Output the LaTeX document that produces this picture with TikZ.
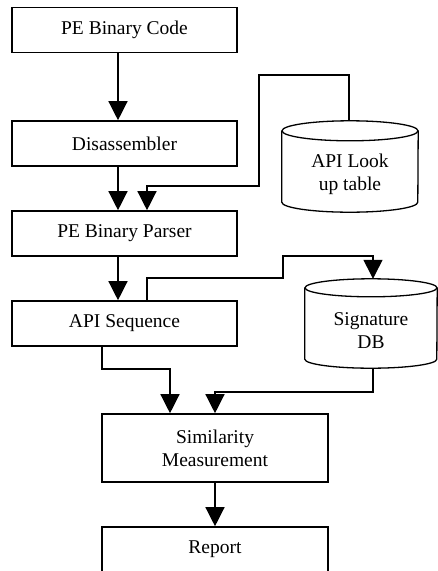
\documentclass[tikz,border=0pt]{standalone}
\usepackage{fontspec}
\setmainfont{Liberation Serif}
\usetikzlibrary{arrows.meta, calc}
\begin{document}
\begin{tikzpicture}[x=1pt, y=-1pt,
  every node/.style={font=\fontsize{19.5}{23}\selectfont, align=center, inner sep=0pt},
  procbox/.style={draw, line width=1.6pt, minimum width=225pt, minimum height=45pt},
  store/.style={minimum height=71pt},
  cylline/.style={line width=1.3pt},
  arr/.style={line width=1.3pt, -{Triangle[length=19pt, width=19pt]}},
  link/.style={line width=1.3pt}]
\useasboundingbox (0,0) rectangle (438,571);

% processing boxes
\node[procbox] (code)   at (124.5, 30)   {PE Binary Code};
\node[procbox] (dis)    at (124.5, 143.5){Disassembler};
\node[procbox] (parser) at (124.5, 233.5){PE Binary Parser};
\node[procbox] (apiseq) at (124.5, 323.5){API Sequence};
\node[procbox, minimum width=226pt, minimum height=68pt] (sim) at (215, 448) {Similarity\\Measurement};
\node[procbox, minimum width=226pt] (report) at (215, 549.5) {Report};

% data stores (cylinders)
\node[store, minimum width=136pt] (lut) at (350, 166.5) {};
\node at (350, 174) {API Look\\up table};
\draw[cylline] (lut.north west) -- (lut.south west)
  arc[start angle=180, end angle=360, x radius=68pt, y radius=10pt]
  -- (lut.north east);
\draw[cylline] (lut.north) ellipse[x radius=68pt, y radius=10pt];

\node[store, minimum width=132pt] (sig) at (371, 323.5) {};
\node at (371, 331) {Signature\\DB};
\draw[cylline] (sig.north west) -- (sig.south west)
  arc[start angle=180, end angle=360, x radius=66pt, y radius=9pt]
  -- (sig.north east);
\draw[cylline] (sig.north) ellipse[x radius=66pt, y radius=9pt];

% connector columns and cylinder attachment points
\coordinate (m) at (118, 0);
\coordinate (c102) at (102, 0);
\coordinate (c147) at (147, 0);
\coordinate (c170) at (170, 0);
\coordinate (lutTop) at ($(lut.north)+(-1,-10)$);
\coordinate (sigTop) at ($(sig.north)+(2,-9)$);
\coordinate (sigBot) at ($(sig.south)+(2,9)$);

% main flow
\draw[arr] (code.south -| m) -- (dis.north -| m);
\draw[arr] (dis.south -| m) -- (parser.north -| m);
\draw[arr] (parser.south -| m) -- (apiseq.north -| m);
\draw[arr] (sim.south) -- (report.north);

% lookup table into parser
\draw[arr] (lutTop) -- (349, 75) -- (259, 75) -- (259, 186) -- (147, 186) -- (parser.north -| c147);

% sequence into signature DB
\draw[arr] (apiseq.north -| c147) -- (147, 278) -- (283, 278) -- (283, 256) -- (373, 256) -- (sigTop);

% sequence and signatures into similarity
\draw[arr] (apiseq.south -| c102) -- (102, 369) -- (170, 369) -- (sim.north -| c170);
\draw[arr] (sigBot) -- (373, 392) -- (215, 392) -- (sim.north);
\end{tikzpicture}
\end{document}
